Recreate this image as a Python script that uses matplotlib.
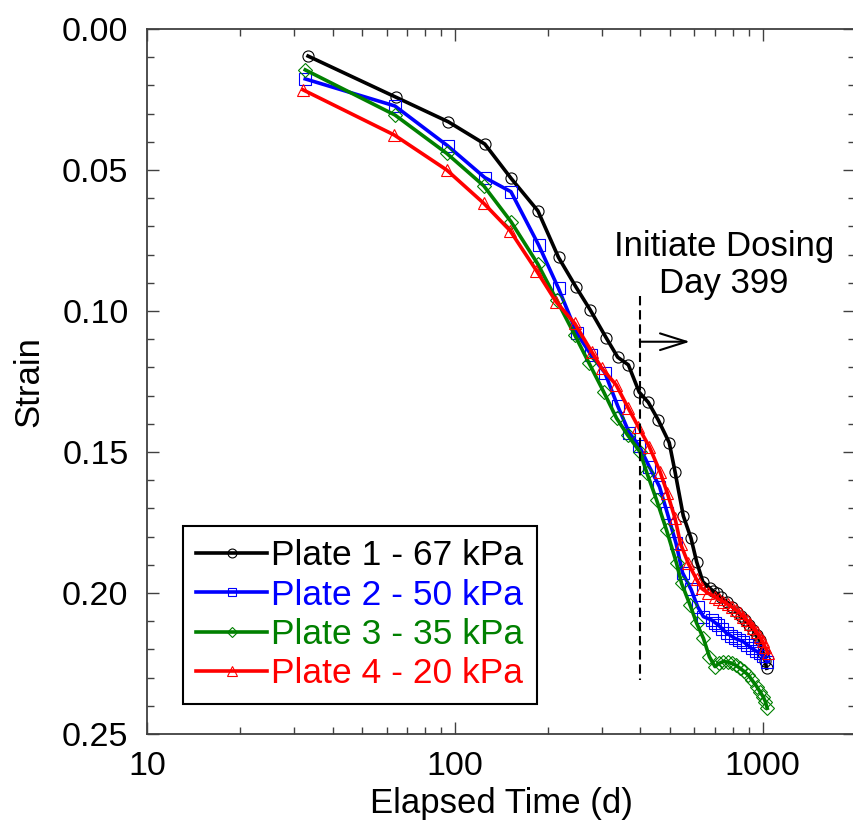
"""
Plate load test - strain vs elapsed time (log scale), four plates.
"""

import matplotlib
matplotlib.use('Agg')
import matplotlib.pyplot as plt
from matplotlib.ticker import LogLocator, MultipleLocator, NullFormatter, FuncFormatter

plt.rcParams['font.family'] = ['Liberation Sans', 'DejaVu Sans']

# Plate 1 - 67 kPa
time_p1 = [33.3, 64.3, 95.1, 125, 152, 186, 217, 247, 275, 310, 338, 366, 397, 425, 458,
           497, 519, 552, 585, 610, 639, 675, 690, 709, 730, 764, 795, 824, 850, 876,
           905, 932, 955, 979, 1004, 1018, 1030]
strain_p1 = [0.0096, 0.0242, 0.0329, 0.0408, 0.0529, 0.0645, 0.0810, 0.0914, 0.0996, 0.1095,
             0.1164, 0.1191, 0.1288, 0.1324, 0.1387, 0.1467, 0.1570, 0.1726, 0.1806, 0.1889,
             0.1960, 0.1984, 0.1993, 0.2001, 0.2015, 0.2031, 0.2048, 0.2066, 0.2081, 0.2096,
             0.2113, 0.2131, 0.2150, 0.2167, 0.2214, 0.2240, 0.2267]

# Plate 2 - 50 kPa
time_p2 = [32.6, 63.8, 94.6, 125, 152, 187, 217, 249, 277, 307, 338, 368, 397, 428, 462,
           490, 523, 549, 585, 615, 642, 683, 700, 717, 740, 764, 790, 813, 840, 865,
           890, 920, 950, 979, 1005, 1035]
strain_p2 = [0.0177, 0.0273, 0.0414, 0.0527, 0.0577, 0.0766, 0.0920, 0.1079, 0.1156, 0.1219,
             0.1337, 0.1431, 0.1479, 0.1552, 0.1623, 0.1717, 0.1824, 0.1928, 0.1987, 0.2049,
             0.2084, 0.2096, 0.2105, 0.2113, 0.2128, 0.2143, 0.2152, 0.2161, 0.2167, 0.2173,
             0.2183, 0.2196, 0.2205, 0.2214, 0.2225, 0.2243]

# Plate 3 - 35 kPa
time_p3 = [32.6, 63.8, 94, 124, 152, 186, 214, 245, 273, 304, 335, 364, 399, 421, 452,
           487, 525, 545, 581, 610, 642, 671, 700, 720, 745, 770, 793, 820, 844, 870,
           898, 925, 957, 980, 1004, 1020, 1035]
strain_p3 = [0.0145, 0.0305, 0.0441, 0.0556, 0.0683, 0.0834, 0.0961, 0.1085, 0.1186, 0.1286,
             0.1380, 0.1440, 0.1499, 0.1576, 0.1670, 0.1777, 0.1895, 0.1966, 0.2043, 0.2107,
             0.2161, 0.2226, 0.2261, 0.2250, 0.2243, 0.2245, 0.2249, 0.2257, 0.2267, 0.2278,
             0.2291, 0.2310, 0.2332, 0.2350, 0.2368, 0.2385, 0.2409]

# Plate 4 - 20 kPa
time_p4 = [32.1, 63.5, 94, 124, 151, 184, 213, 245, 278, 300, 334, 366, 394, 428, 464,
           490, 519, 541, 573, 610, 634, 666, 700, 720, 745, 770, 793, 820, 844, 865,
           887, 910, 932, 955, 979, 1000, 1016, 1042]
strain_p4 = [0.0216, 0.0376, 0.0500, 0.0618, 0.0715, 0.0857, 0.0967, 0.1044, 0.1144, 0.1203,
             0.1262, 0.1345, 0.1410, 0.1481, 0.1570, 0.1646, 0.1735, 0.1826, 0.1895, 0.1952,
             0.1984, 0.2001, 0.2013, 0.2022, 0.2031, 0.2040, 0.2049, 0.2060, 0.2072, 0.2084,
             0.2096, 0.2110, 0.2125, 0.2140, 0.2155, 0.2172, 0.2190, 0.2214]

labels = ['Plate 1 - 67 kPa', 'Plate 2 - 50 kPa', 'Plate 3 - 35 kPa', 'Plate 4 - 20 kPa']
colors = ['#000000', '#0000FF', '#008000', '#FF0000']
markers = ['o', 's', 'D', '^']
marker_sizes = [8, 8, 7, 8.5]

# Dosing event
dosing_day = 399
dosing_strain_range = [0.0947, 0.2309]
arrow_end_day = 580
arrow_strain = 0.1109

fig = plt.figure(figsize=(8.54, 8.26), dpi=100, facecolor='white')
ax = fig.add_axes([0.1725, 0.1114, 0.829, 0.8535])

series = [(time_p1, strain_p1), (time_p2, strain_p2), (time_p3, strain_p3), (time_p4, strain_p4)]
for (t, s), lab, col, mk, ms in zip(series, labels, colors, markers, marker_sizes):
    ax.plot(t, s, color=col, linewidth=2.6, marker=mk, markersize=ms,
            markerfacecolor='none', markeredgecolor=col, markeredgewidth=0.8, label=lab)

# Dashed marker for start of dosing, with arrow
ax.plot([dosing_day, dosing_day], dosing_strain_range, color='black', linewidth=1.5,
        linestyle=(0, (4.5, 2.3)))
ax.annotate('', xy=(arrow_end_day, arrow_strain), xytext=(dosing_day, arrow_strain),
            arrowprops=dict(arrowstyle='->,head_length=0.95,head_width=0.3', lw=1.5,
                            color='black', mutation_scale=20, shrinkA=0, shrinkB=0))
ax.text(748, 0.0836, 'Initiate Dosing\nDay 399', ha='center', va='center',
        multialignment='center', fontsize=25, linespacing=1.15)

# Axes
ax.set_xscale('log')
ax.set_xlim(10, 2000)
ax.set_ylim(0.25, 0.0)
ax.set_xticks([10, 100, 1000])
ax.xaxis.set_major_formatter(FuncFormatter(lambda v, p: f'{v:.0f}'))
ax.xaxis.set_minor_locator(LogLocator(base=10, subs=range(2, 10)))
ax.xaxis.set_minor_formatter(NullFormatter())
ax.set_yticks([0.0, 0.05, 0.10, 0.15, 0.20, 0.25])
ax.yaxis.set_major_formatter(FuncFormatter(lambda v, p: f'{v:.2f}'))
ax.yaxis.set_minor_locator(MultipleLocator(0.01))

ax.tick_params(which='both', direction='in', top=True, right=True, color='#404040', width=1)
ax.tick_params(which='major', length=8.6, labelsize=24.5)
ax.tick_params(which='minor', length=4.7)
ax.tick_params(axis='x', which='major', pad=12)
ax.tick_params(axis='y', which='major', pad=13.5)
for sp in ax.spines.values():
    sp.set_color('#404040')
    sp.set_linewidth(1.3)

ax.set_xlabel('Elapsed Time (d)', fontsize=25, labelpad=4)
ax.set_ylabel('Strain', fontsize=25, labelpad=12)

leg = ax.legend(loc='lower left', bbox_to_anchor=(0.05, 0.0426), borderaxespad=0,
                fontsize=25.5, labelcolor='linecolor', fancybox=False, framealpha=1,
                edgecolor='black', handlelength=2.0, handletextpad=0.12, borderpad=0.38,
                labelspacing=0.18, markerscale=0.8)
leg.get_frame().set_linewidth(1.5)

plt.savefig('out.png', dpi=100, facecolor='white')
plt.close()
